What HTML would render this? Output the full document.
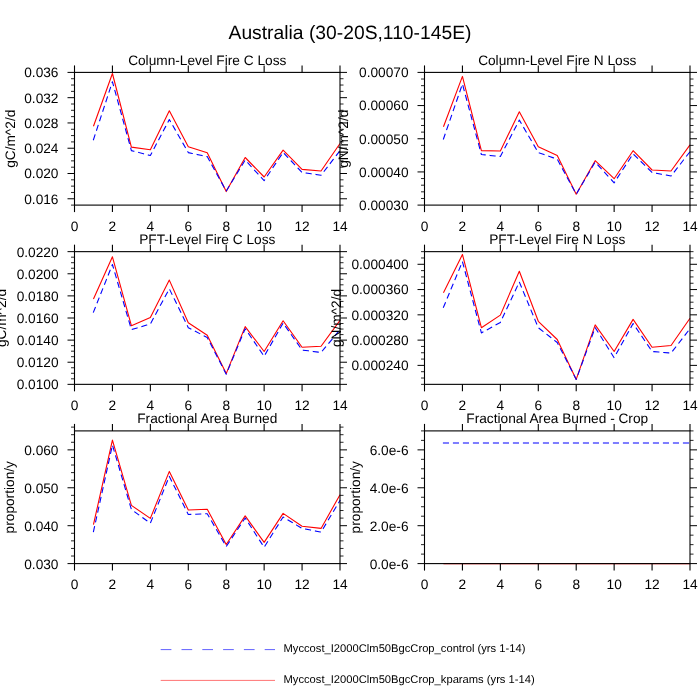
<!DOCTYPE html>
<html><head><meta charset="utf-8"><style>
html,body{margin:0;padding:0;background:#fff;}
svg{display:block;will-change:transform;}
text{text-rendering:geometricPrecision;}
.t{font-family:"Liberation Sans",sans-serif;font-size:13.7px;fill:#000;}
.tt{font-family:"Liberation Sans",sans-serif;font-size:19.3px;fill:#000;}
.tl{font-family:"Liberation Sans",sans-serif;font-size:11.2px;fill:#000;}
</style></head><body>
<svg width="700" height="700" viewBox="0 0 700 700">
<rect width="700" height="700" fill="#fff"/>
<line x1="443.46" y1="563.5999999999999" x2="690.00" y2="563.5999999999999" stroke="#f00" stroke-width="1.1"/>
<line x1="443.46" y1="443.0" x2="690.00" y2="443.0" stroke="#00f" stroke-width="1.1" stroke-linejoin="round" stroke-linecap="square" stroke-dasharray="5 5"/>
<polyline points="93.46,524.6 112.43,440.1 131.39,505.4 150.36,518.4 169.32,471.4 188.29,510 207.25,509.2 226.21,544.5 245.18,515.9 264.14,542.4 283.11,513.4 302.07,526.3 321.04,528.4 340.00,494.8" fill="none" stroke="#f00" stroke-width="1.1" stroke-linejoin="round"/>
<polyline points="93.46,531.6 112.43,445.0 131.39,509.5 150.36,523.2 169.32,476.3 188.29,514.5 207.25,513.7 226.21,546.5 245.18,518 264.14,547.3 283.11,517 302.07,528.4 321.04,532.1 340.00,500.4" fill="none" stroke="#00f" stroke-width="1.1" stroke-linejoin="round" stroke-linecap="square" stroke-dasharray="5 5"/>
<polyline points="443.46,292.7 462.43,254.4 481.39,327.7 500.36,315.1 519.32,271.3 538.29,321.3 557.25,339.5 576.21,379.4 595.18,324.9 614.14,351.5 633.11,319.4 652.07,347.3 671.04,345.5 690.00,318.3" fill="none" stroke="#f00" stroke-width="1.1" stroke-linejoin="round"/>
<polyline points="443.46,307.3 462.43,261.6 481.39,332.9 500.36,322.4 519.32,282 538.29,327.7 557.25,342.5 576.21,379.4 595.18,327.6 614.14,357.7 633.11,323.5 652.07,351.5 671.04,353.1 690.00,328.7" fill="none" stroke="#00f" stroke-width="1.1" stroke-linejoin="round" stroke-linecap="square" stroke-dasharray="5 5"/>
<polyline points="93.46,299.1 112.43,256.8 131.39,325.7 150.36,317.4 169.32,280.1 188.29,322.8 207.25,335.2 226.21,373.6 245.18,326.6 264.14,351.5 283.11,320.8 302.07,347.3 321.04,346.3 340.00,320.4" fill="none" stroke="#f00" stroke-width="1.1" stroke-linejoin="round"/>
<polyline points="93.46,312.1 112.43,264.5 131.39,329.6 150.36,324.0 169.32,288.8 188.29,327.7 207.25,337.5 226.21,374.2 245.18,328.7 264.14,356.3 283.11,323.1 302.07,350 321.04,352.5 340.00,329.7" fill="none" stroke="#00f" stroke-width="1.1" stroke-linejoin="round" stroke-linecap="square" stroke-dasharray="5 5"/>
<polyline points="443.46,126.7 462.43,76.4 481.39,150.6 500.36,151 519.32,111.8 538.29,146.7 557.25,155.5 576.21,194.2 595.18,160.7 614.14,178.7 633.11,150.7 652.07,170 671.04,171 690.00,144.9" fill="none" stroke="#f00" stroke-width="1.1" stroke-linejoin="round"/>
<polyline points="443.46,139 462.43,84 481.39,154.5 500.36,156.5 519.32,120.1 538.29,152.6 557.25,159.2 576.21,194.2 595.18,162.1 614.14,182.8 633.11,153.8 652.07,172.5 671.04,176 690.00,151.7" fill="none" stroke="#00f" stroke-width="1.1" stroke-linejoin="round" stroke-linecap="square" stroke-dasharray="5 5"/>
<polyline points="93.46,126.3 112.43,73.5 131.39,147.1 150.36,149.7 169.32,110.8 188.29,146.7 207.25,152.8 226.21,191.6 245.18,157.5 264.14,177 283.11,150.1 302.07,169.4 321.04,171 340.00,143.5" fill="none" stroke="#f00" stroke-width="1.1" stroke-linejoin="round"/>
<polyline points="93.46,139.7 112.43,81.7 131.39,150.6 150.36,155.5 169.32,119.5 188.29,152.6 207.25,156.6 226.21,191.1 245.18,160 264.14,180.7 283.11,152.4 302.07,172.5 321.04,175.2 340.00,150.7" fill="none" stroke="#00f" stroke-width="1.1" stroke-linejoin="round" stroke-linecap="square" stroke-dasharray="5 5"/>
<line x1="74.50" y1="65.4" x2="74.50" y2="72.4" stroke="#000" stroke-width="1.1"/>
<line x1="74.50" y1="205.1" x2="74.50" y2="212.1" stroke="#000" stroke-width="1.1"/>
<text x="74.50" y="230.70" class="t" text-anchor="middle">0</text>
<line x1="112.43" y1="65.4" x2="112.43" y2="72.4" stroke="#000" stroke-width="1.1"/>
<line x1="112.43" y1="205.1" x2="112.43" y2="212.1" stroke="#000" stroke-width="1.1"/>
<text x="112.43" y="230.70" class="t" text-anchor="middle">2</text>
<line x1="150.36" y1="65.4" x2="150.36" y2="72.4" stroke="#000" stroke-width="1.1"/>
<line x1="150.36" y1="205.1" x2="150.36" y2="212.1" stroke="#000" stroke-width="1.1"/>
<text x="150.36" y="230.70" class="t" text-anchor="middle">4</text>
<line x1="188.29" y1="65.4" x2="188.29" y2="72.4" stroke="#000" stroke-width="1.1"/>
<line x1="188.29" y1="205.1" x2="188.29" y2="212.1" stroke="#000" stroke-width="1.1"/>
<text x="188.29" y="230.70" class="t" text-anchor="middle">6</text>
<line x1="226.21" y1="65.4" x2="226.21" y2="72.4" stroke="#000" stroke-width="1.1"/>
<line x1="226.21" y1="205.1" x2="226.21" y2="212.1" stroke="#000" stroke-width="1.1"/>
<text x="226.21" y="230.70" class="t" text-anchor="middle">8</text>
<line x1="264.14" y1="65.4" x2="264.14" y2="72.4" stroke="#000" stroke-width="1.1"/>
<line x1="264.14" y1="205.1" x2="264.14" y2="212.1" stroke="#000" stroke-width="1.1"/>
<text x="264.14" y="230.70" class="t" text-anchor="middle">10</text>
<line x1="302.07" y1="65.4" x2="302.07" y2="72.4" stroke="#000" stroke-width="1.1"/>
<line x1="302.07" y1="205.1" x2="302.07" y2="212.1" stroke="#000" stroke-width="1.1"/>
<text x="302.07" y="230.70" class="t" text-anchor="middle">12</text>
<line x1="340.00" y1="65.4" x2="340.00" y2="72.4" stroke="#000" stroke-width="1.1"/>
<line x1="340.00" y1="205.1" x2="340.00" y2="212.1" stroke="#000" stroke-width="1.1"/>
<text x="340.00" y="230.70" class="t" text-anchor="middle">14</text>
<line x1="71.0" y1="205.10" x2="74.5" y2="205.10" stroke="#000" stroke-width="0.85"/>
<line x1="340.0" y1="205.10" x2="343.5" y2="205.10" stroke="#000" stroke-width="0.85"/>
<line x1="67.5" y1="198.78" x2="74.5" y2="198.78" stroke="#000" stroke-width="1.0"/>
<line x1="340.0" y1="198.78" x2="347.0" y2="198.78" stroke="#000" stroke-width="1.0"/>
<text x="58.5" y="203.68" class="t" text-anchor="end">0.016</text>
<line x1="71.0" y1="192.46" x2="74.5" y2="192.46" stroke="#000" stroke-width="0.85"/>
<line x1="340.0" y1="192.46" x2="343.5" y2="192.46" stroke="#000" stroke-width="0.85"/>
<line x1="71.0" y1="186.14" x2="74.5" y2="186.14" stroke="#000" stroke-width="0.85"/>
<line x1="340.0" y1="186.14" x2="343.5" y2="186.14" stroke="#000" stroke-width="0.85"/>
<line x1="71.0" y1="179.82" x2="74.5" y2="179.82" stroke="#000" stroke-width="0.85"/>
<line x1="340.0" y1="179.82" x2="343.5" y2="179.82" stroke="#000" stroke-width="0.85"/>
<line x1="67.5" y1="173.50" x2="74.5" y2="173.50" stroke="#000" stroke-width="1.0"/>
<line x1="340.0" y1="173.50" x2="347.0" y2="173.50" stroke="#000" stroke-width="1.0"/>
<text x="58.5" y="178.40" class="t" text-anchor="end">0.020</text>
<line x1="71.0" y1="167.19" x2="74.5" y2="167.19" stroke="#000" stroke-width="0.85"/>
<line x1="340.0" y1="167.19" x2="343.5" y2="167.19" stroke="#000" stroke-width="0.85"/>
<line x1="71.0" y1="160.87" x2="74.5" y2="160.87" stroke="#000" stroke-width="0.85"/>
<line x1="340.0" y1="160.87" x2="343.5" y2="160.87" stroke="#000" stroke-width="0.85"/>
<line x1="71.0" y1="154.55" x2="74.5" y2="154.55" stroke="#000" stroke-width="0.85"/>
<line x1="340.0" y1="154.55" x2="343.5" y2="154.55" stroke="#000" stroke-width="0.85"/>
<line x1="67.5" y1="148.23" x2="74.5" y2="148.23" stroke="#000" stroke-width="1.0"/>
<line x1="340.0" y1="148.23" x2="347.0" y2="148.23" stroke="#000" stroke-width="1.0"/>
<text x="58.5" y="153.13" class="t" text-anchor="end">0.024</text>
<line x1="71.0" y1="141.91" x2="74.5" y2="141.91" stroke="#000" stroke-width="0.85"/>
<line x1="340.0" y1="141.91" x2="343.5" y2="141.91" stroke="#000" stroke-width="0.85"/>
<line x1="71.0" y1="135.59" x2="74.5" y2="135.59" stroke="#000" stroke-width="0.85"/>
<line x1="340.0" y1="135.59" x2="343.5" y2="135.59" stroke="#000" stroke-width="0.85"/>
<line x1="71.0" y1="129.27" x2="74.5" y2="129.27" stroke="#000" stroke-width="0.85"/>
<line x1="340.0" y1="129.27" x2="343.5" y2="129.27" stroke="#000" stroke-width="0.85"/>
<line x1="67.5" y1="122.95" x2="74.5" y2="122.95" stroke="#000" stroke-width="1.0"/>
<line x1="340.0" y1="122.95" x2="347.0" y2="122.95" stroke="#000" stroke-width="1.0"/>
<text x="58.5" y="127.85" class="t" text-anchor="end">0.028</text>
<line x1="71.0" y1="116.63" x2="74.5" y2="116.63" stroke="#000" stroke-width="0.85"/>
<line x1="340.0" y1="116.63" x2="343.5" y2="116.63" stroke="#000" stroke-width="0.85"/>
<line x1="71.0" y1="110.31" x2="74.5" y2="110.31" stroke="#000" stroke-width="0.85"/>
<line x1="340.0" y1="110.31" x2="343.5" y2="110.31" stroke="#000" stroke-width="0.85"/>
<line x1="71.0" y1="104.00" x2="74.5" y2="104.00" stroke="#000" stroke-width="0.85"/>
<line x1="340.0" y1="104.00" x2="343.5" y2="104.00" stroke="#000" stroke-width="0.85"/>
<line x1="67.5" y1="97.68" x2="74.5" y2="97.68" stroke="#000" stroke-width="1.0"/>
<line x1="340.0" y1="97.68" x2="347.0" y2="97.68" stroke="#000" stroke-width="1.0"/>
<text x="58.5" y="102.58" class="t" text-anchor="end">0.032</text>
<line x1="71.0" y1="91.36" x2="74.5" y2="91.36" stroke="#000" stroke-width="0.85"/>
<line x1="340.0" y1="91.36" x2="343.5" y2="91.36" stroke="#000" stroke-width="0.85"/>
<line x1="71.0" y1="85.04" x2="74.5" y2="85.04" stroke="#000" stroke-width="0.85"/>
<line x1="340.0" y1="85.04" x2="343.5" y2="85.04" stroke="#000" stroke-width="0.85"/>
<line x1="71.0" y1="78.72" x2="74.5" y2="78.72" stroke="#000" stroke-width="0.85"/>
<line x1="340.0" y1="78.72" x2="343.5" y2="78.72" stroke="#000" stroke-width="0.85"/>
<line x1="67.5" y1="72.40" x2="74.5" y2="72.40" stroke="#000" stroke-width="1.0"/>
<line x1="340.0" y1="72.40" x2="347.0" y2="72.40" stroke="#000" stroke-width="1.0"/>
<text x="58.5" y="77.30" class="t" text-anchor="end">0.036</text>
<text x="207.25" y="64.70" class="t" text-anchor="middle">Column-Level Fire C Loss</text>
<rect x="74.5" y="72.4" width="265.5" height="132.7" fill="none" stroke="#000" stroke-width="1.1"/>
<line x1="424.50" y1="65.4" x2="424.50" y2="72.4" stroke="#000" stroke-width="1.1"/>
<line x1="424.50" y1="205.1" x2="424.50" y2="212.1" stroke="#000" stroke-width="1.1"/>
<text x="424.50" y="230.70" class="t" text-anchor="middle">0</text>
<line x1="462.43" y1="65.4" x2="462.43" y2="72.4" stroke="#000" stroke-width="1.1"/>
<line x1="462.43" y1="205.1" x2="462.43" y2="212.1" stroke="#000" stroke-width="1.1"/>
<text x="462.43" y="230.70" class="t" text-anchor="middle">2</text>
<line x1="500.36" y1="65.4" x2="500.36" y2="72.4" stroke="#000" stroke-width="1.1"/>
<line x1="500.36" y1="205.1" x2="500.36" y2="212.1" stroke="#000" stroke-width="1.1"/>
<text x="500.36" y="230.70" class="t" text-anchor="middle">4</text>
<line x1="538.29" y1="65.4" x2="538.29" y2="72.4" stroke="#000" stroke-width="1.1"/>
<line x1="538.29" y1="205.1" x2="538.29" y2="212.1" stroke="#000" stroke-width="1.1"/>
<text x="538.29" y="230.70" class="t" text-anchor="middle">6</text>
<line x1="576.21" y1="65.4" x2="576.21" y2="72.4" stroke="#000" stroke-width="1.1"/>
<line x1="576.21" y1="205.1" x2="576.21" y2="212.1" stroke="#000" stroke-width="1.1"/>
<text x="576.21" y="230.70" class="t" text-anchor="middle">8</text>
<line x1="614.14" y1="65.4" x2="614.14" y2="72.4" stroke="#000" stroke-width="1.1"/>
<line x1="614.14" y1="205.1" x2="614.14" y2="212.1" stroke="#000" stroke-width="1.1"/>
<text x="614.14" y="230.70" class="t" text-anchor="middle">10</text>
<line x1="652.07" y1="65.4" x2="652.07" y2="72.4" stroke="#000" stroke-width="1.1"/>
<line x1="652.07" y1="205.1" x2="652.07" y2="212.1" stroke="#000" stroke-width="1.1"/>
<text x="652.07" y="230.70" class="t" text-anchor="middle">12</text>
<line x1="690.00" y1="65.4" x2="690.00" y2="72.4" stroke="#000" stroke-width="1.1"/>
<line x1="690.00" y1="205.1" x2="690.00" y2="212.1" stroke="#000" stroke-width="1.1"/>
<text x="690.00" y="230.70" class="t" text-anchor="middle">14</text>
<line x1="417.5" y1="205.10" x2="424.5" y2="205.10" stroke="#000" stroke-width="1.0"/>
<line x1="690.0" y1="205.10" x2="697.0" y2="205.10" stroke="#000" stroke-width="1.0"/>
<text x="408.5" y="210.00" class="t" text-anchor="end">0.00030</text>
<line x1="421.0" y1="198.47" x2="424.5" y2="198.47" stroke="#000" stroke-width="0.85"/>
<line x1="690.0" y1="198.47" x2="693.5" y2="198.47" stroke="#000" stroke-width="0.85"/>
<line x1="421.0" y1="191.83" x2="424.5" y2="191.83" stroke="#000" stroke-width="0.85"/>
<line x1="690.0" y1="191.83" x2="693.5" y2="191.83" stroke="#000" stroke-width="0.85"/>
<line x1="421.0" y1="185.19" x2="424.5" y2="185.19" stroke="#000" stroke-width="0.85"/>
<line x1="690.0" y1="185.19" x2="693.5" y2="185.19" stroke="#000" stroke-width="0.85"/>
<line x1="421.0" y1="178.56" x2="424.5" y2="178.56" stroke="#000" stroke-width="0.85"/>
<line x1="690.0" y1="178.56" x2="693.5" y2="178.56" stroke="#000" stroke-width="0.85"/>
<line x1="417.5" y1="171.93" x2="424.5" y2="171.93" stroke="#000" stroke-width="1.0"/>
<line x1="690.0" y1="171.93" x2="697.0" y2="171.93" stroke="#000" stroke-width="1.0"/>
<text x="408.5" y="176.83" class="t" text-anchor="end">0.00040</text>
<line x1="421.0" y1="165.29" x2="424.5" y2="165.29" stroke="#000" stroke-width="0.85"/>
<line x1="690.0" y1="165.29" x2="693.5" y2="165.29" stroke="#000" stroke-width="0.85"/>
<line x1="421.0" y1="158.66" x2="424.5" y2="158.66" stroke="#000" stroke-width="0.85"/>
<line x1="690.0" y1="158.66" x2="693.5" y2="158.66" stroke="#000" stroke-width="0.85"/>
<line x1="421.0" y1="152.02" x2="424.5" y2="152.02" stroke="#000" stroke-width="0.85"/>
<line x1="690.0" y1="152.02" x2="693.5" y2="152.02" stroke="#000" stroke-width="0.85"/>
<line x1="421.0" y1="145.38" x2="424.5" y2="145.38" stroke="#000" stroke-width="0.85"/>
<line x1="690.0" y1="145.38" x2="693.5" y2="145.38" stroke="#000" stroke-width="0.85"/>
<line x1="417.5" y1="138.75" x2="424.5" y2="138.75" stroke="#000" stroke-width="1.0"/>
<line x1="690.0" y1="138.75" x2="697.0" y2="138.75" stroke="#000" stroke-width="1.0"/>
<text x="408.5" y="143.65" class="t" text-anchor="end">0.00050</text>
<line x1="421.0" y1="132.12" x2="424.5" y2="132.12" stroke="#000" stroke-width="0.85"/>
<line x1="690.0" y1="132.12" x2="693.5" y2="132.12" stroke="#000" stroke-width="0.85"/>
<line x1="421.0" y1="125.48" x2="424.5" y2="125.48" stroke="#000" stroke-width="0.85"/>
<line x1="690.0" y1="125.48" x2="693.5" y2="125.48" stroke="#000" stroke-width="0.85"/>
<line x1="421.0" y1="118.85" x2="424.5" y2="118.85" stroke="#000" stroke-width="0.85"/>
<line x1="690.0" y1="118.85" x2="693.5" y2="118.85" stroke="#000" stroke-width="0.85"/>
<line x1="421.0" y1="112.21" x2="424.5" y2="112.21" stroke="#000" stroke-width="0.85"/>
<line x1="690.0" y1="112.21" x2="693.5" y2="112.21" stroke="#000" stroke-width="0.85"/>
<line x1="417.5" y1="105.57" x2="424.5" y2="105.57" stroke="#000" stroke-width="1.0"/>
<line x1="690.0" y1="105.57" x2="697.0" y2="105.57" stroke="#000" stroke-width="1.0"/>
<text x="408.5" y="110.47" class="t" text-anchor="end">0.00060</text>
<line x1="421.0" y1="98.94" x2="424.5" y2="98.94" stroke="#000" stroke-width="0.85"/>
<line x1="690.0" y1="98.94" x2="693.5" y2="98.94" stroke="#000" stroke-width="0.85"/>
<line x1="421.0" y1="92.31" x2="424.5" y2="92.31" stroke="#000" stroke-width="0.85"/>
<line x1="690.0" y1="92.31" x2="693.5" y2="92.31" stroke="#000" stroke-width="0.85"/>
<line x1="421.0" y1="85.67" x2="424.5" y2="85.67" stroke="#000" stroke-width="0.85"/>
<line x1="690.0" y1="85.67" x2="693.5" y2="85.67" stroke="#000" stroke-width="0.85"/>
<line x1="421.0" y1="79.03" x2="424.5" y2="79.03" stroke="#000" stroke-width="0.85"/>
<line x1="690.0" y1="79.03" x2="693.5" y2="79.03" stroke="#000" stroke-width="0.85"/>
<line x1="417.5" y1="72.40" x2="424.5" y2="72.40" stroke="#000" stroke-width="1.0"/>
<line x1="690.0" y1="72.40" x2="697.0" y2="72.40" stroke="#000" stroke-width="1.0"/>
<text x="408.5" y="77.30" class="t" text-anchor="end">0.00070</text>
<text x="557.25" y="64.70" class="t" text-anchor="middle">Column-Level Fire N Loss</text>
<rect x="424.5" y="72.4" width="265.5" height="132.7" fill="none" stroke="#000" stroke-width="1.1"/>
<line x1="74.50" y1="244.65" x2="74.50" y2="251.65" stroke="#000" stroke-width="1.1"/>
<line x1="74.50" y1="384.35" x2="74.50" y2="391.35" stroke="#000" stroke-width="1.1"/>
<text x="74.50" y="409.95" class="t" text-anchor="middle">0</text>
<line x1="112.43" y1="244.65" x2="112.43" y2="251.65" stroke="#000" stroke-width="1.1"/>
<line x1="112.43" y1="384.35" x2="112.43" y2="391.35" stroke="#000" stroke-width="1.1"/>
<text x="112.43" y="409.95" class="t" text-anchor="middle">2</text>
<line x1="150.36" y1="244.65" x2="150.36" y2="251.65" stroke="#000" stroke-width="1.1"/>
<line x1="150.36" y1="384.35" x2="150.36" y2="391.35" stroke="#000" stroke-width="1.1"/>
<text x="150.36" y="409.95" class="t" text-anchor="middle">4</text>
<line x1="188.29" y1="244.65" x2="188.29" y2="251.65" stroke="#000" stroke-width="1.1"/>
<line x1="188.29" y1="384.35" x2="188.29" y2="391.35" stroke="#000" stroke-width="1.1"/>
<text x="188.29" y="409.95" class="t" text-anchor="middle">6</text>
<line x1="226.21" y1="244.65" x2="226.21" y2="251.65" stroke="#000" stroke-width="1.1"/>
<line x1="226.21" y1="384.35" x2="226.21" y2="391.35" stroke="#000" stroke-width="1.1"/>
<text x="226.21" y="409.95" class="t" text-anchor="middle">8</text>
<line x1="264.14" y1="244.65" x2="264.14" y2="251.65" stroke="#000" stroke-width="1.1"/>
<line x1="264.14" y1="384.35" x2="264.14" y2="391.35" stroke="#000" stroke-width="1.1"/>
<text x="264.14" y="409.95" class="t" text-anchor="middle">10</text>
<line x1="302.07" y1="244.65" x2="302.07" y2="251.65" stroke="#000" stroke-width="1.1"/>
<line x1="302.07" y1="384.35" x2="302.07" y2="391.35" stroke="#000" stroke-width="1.1"/>
<text x="302.07" y="409.95" class="t" text-anchor="middle">12</text>
<line x1="340.00" y1="244.65" x2="340.00" y2="251.65" stroke="#000" stroke-width="1.1"/>
<line x1="340.00" y1="384.35" x2="340.00" y2="391.35" stroke="#000" stroke-width="1.1"/>
<text x="340.00" y="409.95" class="t" text-anchor="middle">14</text>
<line x1="67.5" y1="384.35" x2="74.5" y2="384.35" stroke="#000" stroke-width="1.0"/>
<line x1="340.0" y1="384.35" x2="347.0" y2="384.35" stroke="#000" stroke-width="1.0"/>
<text x="58.5" y="389.25" class="t" text-anchor="end">0.0100</text>
<line x1="71.0" y1="378.82" x2="74.5" y2="378.82" stroke="#000" stroke-width="0.85"/>
<line x1="340.0" y1="378.82" x2="343.5" y2="378.82" stroke="#000" stroke-width="0.85"/>
<line x1="71.0" y1="373.29" x2="74.5" y2="373.29" stroke="#000" stroke-width="0.85"/>
<line x1="340.0" y1="373.29" x2="343.5" y2="373.29" stroke="#000" stroke-width="0.85"/>
<line x1="71.0" y1="367.76" x2="74.5" y2="367.76" stroke="#000" stroke-width="0.85"/>
<line x1="340.0" y1="367.76" x2="343.5" y2="367.76" stroke="#000" stroke-width="0.85"/>
<line x1="67.5" y1="362.23" x2="74.5" y2="362.23" stroke="#000" stroke-width="1.0"/>
<line x1="340.0" y1="362.23" x2="347.0" y2="362.23" stroke="#000" stroke-width="1.0"/>
<text x="58.5" y="367.13" class="t" text-anchor="end">0.0120</text>
<line x1="71.0" y1="356.70" x2="74.5" y2="356.70" stroke="#000" stroke-width="0.85"/>
<line x1="340.0" y1="356.70" x2="343.5" y2="356.70" stroke="#000" stroke-width="0.85"/>
<line x1="71.0" y1="351.18" x2="74.5" y2="351.18" stroke="#000" stroke-width="0.85"/>
<line x1="340.0" y1="351.18" x2="343.5" y2="351.18" stroke="#000" stroke-width="0.85"/>
<line x1="71.0" y1="345.65" x2="74.5" y2="345.65" stroke="#000" stroke-width="0.85"/>
<line x1="340.0" y1="345.65" x2="343.5" y2="345.65" stroke="#000" stroke-width="0.85"/>
<line x1="67.5" y1="340.12" x2="74.5" y2="340.12" stroke="#000" stroke-width="1.0"/>
<line x1="340.0" y1="340.12" x2="347.0" y2="340.12" stroke="#000" stroke-width="1.0"/>
<text x="58.5" y="345.02" class="t" text-anchor="end">0.0140</text>
<line x1="71.0" y1="334.59" x2="74.5" y2="334.59" stroke="#000" stroke-width="0.85"/>
<line x1="340.0" y1="334.59" x2="343.5" y2="334.59" stroke="#000" stroke-width="0.85"/>
<line x1="71.0" y1="329.06" x2="74.5" y2="329.06" stroke="#000" stroke-width="0.85"/>
<line x1="340.0" y1="329.06" x2="343.5" y2="329.06" stroke="#000" stroke-width="0.85"/>
<line x1="71.0" y1="323.53" x2="74.5" y2="323.53" stroke="#000" stroke-width="0.85"/>
<line x1="340.0" y1="323.53" x2="343.5" y2="323.53" stroke="#000" stroke-width="0.85"/>
<line x1="67.5" y1="318.00" x2="74.5" y2="318.00" stroke="#000" stroke-width="1.0"/>
<line x1="340.0" y1="318.00" x2="347.0" y2="318.00" stroke="#000" stroke-width="1.0"/>
<text x="58.5" y="322.90" class="t" text-anchor="end">0.0160</text>
<line x1="71.0" y1="312.47" x2="74.5" y2="312.47" stroke="#000" stroke-width="0.85"/>
<line x1="340.0" y1="312.47" x2="343.5" y2="312.47" stroke="#000" stroke-width="0.85"/>
<line x1="71.0" y1="306.94" x2="74.5" y2="306.94" stroke="#000" stroke-width="0.85"/>
<line x1="340.0" y1="306.94" x2="343.5" y2="306.94" stroke="#000" stroke-width="0.85"/>
<line x1="71.0" y1="301.41" x2="74.5" y2="301.41" stroke="#000" stroke-width="0.85"/>
<line x1="340.0" y1="301.41" x2="343.5" y2="301.41" stroke="#000" stroke-width="0.85"/>
<line x1="67.5" y1="295.88" x2="74.5" y2="295.88" stroke="#000" stroke-width="1.0"/>
<line x1="340.0" y1="295.88" x2="347.0" y2="295.88" stroke="#000" stroke-width="1.0"/>
<text x="58.5" y="300.78" class="t" text-anchor="end">0.0180</text>
<line x1="71.0" y1="290.35" x2="74.5" y2="290.35" stroke="#000" stroke-width="0.85"/>
<line x1="340.0" y1="290.35" x2="343.5" y2="290.35" stroke="#000" stroke-width="0.85"/>
<line x1="71.0" y1="284.82" x2="74.5" y2="284.82" stroke="#000" stroke-width="0.85"/>
<line x1="340.0" y1="284.82" x2="343.5" y2="284.82" stroke="#000" stroke-width="0.85"/>
<line x1="71.0" y1="279.30" x2="74.5" y2="279.30" stroke="#000" stroke-width="0.85"/>
<line x1="340.0" y1="279.30" x2="343.5" y2="279.30" stroke="#000" stroke-width="0.85"/>
<line x1="67.5" y1="273.77" x2="74.5" y2="273.77" stroke="#000" stroke-width="1.0"/>
<line x1="340.0" y1="273.77" x2="347.0" y2="273.77" stroke="#000" stroke-width="1.0"/>
<text x="58.5" y="278.67" class="t" text-anchor="end">0.0200</text>
<line x1="71.0" y1="268.24" x2="74.5" y2="268.24" stroke="#000" stroke-width="0.85"/>
<line x1="340.0" y1="268.24" x2="343.5" y2="268.24" stroke="#000" stroke-width="0.85"/>
<line x1="71.0" y1="262.71" x2="74.5" y2="262.71" stroke="#000" stroke-width="0.85"/>
<line x1="340.0" y1="262.71" x2="343.5" y2="262.71" stroke="#000" stroke-width="0.85"/>
<line x1="71.0" y1="257.18" x2="74.5" y2="257.18" stroke="#000" stroke-width="0.85"/>
<line x1="340.0" y1="257.18" x2="343.5" y2="257.18" stroke="#000" stroke-width="0.85"/>
<line x1="67.5" y1="251.65" x2="74.5" y2="251.65" stroke="#000" stroke-width="1.0"/>
<line x1="340.0" y1="251.65" x2="347.0" y2="251.65" stroke="#000" stroke-width="1.0"/>
<text x="58.5" y="256.55" class="t" text-anchor="end">0.0220</text>
<text x="207.25" y="243.95" class="t" text-anchor="middle">PFT-Level Fire C Loss</text>
<rect x="74.5" y="251.65" width="265.5" height="132.7" fill="none" stroke="#000" stroke-width="1.1"/>
<line x1="424.50" y1="244.65" x2="424.50" y2="251.65" stroke="#000" stroke-width="1.1"/>
<line x1="424.50" y1="384.35" x2="424.50" y2="391.35" stroke="#000" stroke-width="1.1"/>
<text x="424.50" y="409.95" class="t" text-anchor="middle">0</text>
<line x1="462.43" y1="244.65" x2="462.43" y2="251.65" stroke="#000" stroke-width="1.1"/>
<line x1="462.43" y1="384.35" x2="462.43" y2="391.35" stroke="#000" stroke-width="1.1"/>
<text x="462.43" y="409.95" class="t" text-anchor="middle">2</text>
<line x1="500.36" y1="244.65" x2="500.36" y2="251.65" stroke="#000" stroke-width="1.1"/>
<line x1="500.36" y1="384.35" x2="500.36" y2="391.35" stroke="#000" stroke-width="1.1"/>
<text x="500.36" y="409.95" class="t" text-anchor="middle">4</text>
<line x1="538.29" y1="244.65" x2="538.29" y2="251.65" stroke="#000" stroke-width="1.1"/>
<line x1="538.29" y1="384.35" x2="538.29" y2="391.35" stroke="#000" stroke-width="1.1"/>
<text x="538.29" y="409.95" class="t" text-anchor="middle">6</text>
<line x1="576.21" y1="244.65" x2="576.21" y2="251.65" stroke="#000" stroke-width="1.1"/>
<line x1="576.21" y1="384.35" x2="576.21" y2="391.35" stroke="#000" stroke-width="1.1"/>
<text x="576.21" y="409.95" class="t" text-anchor="middle">8</text>
<line x1="614.14" y1="244.65" x2="614.14" y2="251.65" stroke="#000" stroke-width="1.1"/>
<line x1="614.14" y1="384.35" x2="614.14" y2="391.35" stroke="#000" stroke-width="1.1"/>
<text x="614.14" y="409.95" class="t" text-anchor="middle">10</text>
<line x1="652.07" y1="244.65" x2="652.07" y2="251.65" stroke="#000" stroke-width="1.1"/>
<line x1="652.07" y1="384.35" x2="652.07" y2="391.35" stroke="#000" stroke-width="1.1"/>
<text x="652.07" y="409.95" class="t" text-anchor="middle">12</text>
<line x1="690.00" y1="244.65" x2="690.00" y2="251.65" stroke="#000" stroke-width="1.1"/>
<line x1="690.00" y1="384.35" x2="690.00" y2="391.35" stroke="#000" stroke-width="1.1"/>
<text x="690.00" y="409.95" class="t" text-anchor="middle">14</text>
<line x1="421.0" y1="384.35" x2="424.5" y2="384.35" stroke="#000" stroke-width="0.85"/>
<line x1="690.0" y1="384.35" x2="693.5" y2="384.35" stroke="#000" stroke-width="0.85"/>
<line x1="421.0" y1="378.03" x2="424.5" y2="378.03" stroke="#000" stroke-width="0.85"/>
<line x1="690.0" y1="378.03" x2="693.5" y2="378.03" stroke="#000" stroke-width="0.85"/>
<line x1="421.0" y1="371.71" x2="424.5" y2="371.71" stroke="#000" stroke-width="0.85"/>
<line x1="690.0" y1="371.71" x2="693.5" y2="371.71" stroke="#000" stroke-width="0.85"/>
<line x1="417.5" y1="365.39" x2="424.5" y2="365.39" stroke="#000" stroke-width="1.0"/>
<line x1="690.0" y1="365.39" x2="697.0" y2="365.39" stroke="#000" stroke-width="1.0"/>
<text x="408.5" y="370.29" class="t" text-anchor="end">0.000240</text>
<line x1="421.0" y1="359.07" x2="424.5" y2="359.07" stroke="#000" stroke-width="0.85"/>
<line x1="690.0" y1="359.07" x2="693.5" y2="359.07" stroke="#000" stroke-width="0.85"/>
<line x1="421.0" y1="352.75" x2="424.5" y2="352.75" stroke="#000" stroke-width="0.85"/>
<line x1="690.0" y1="352.75" x2="693.5" y2="352.75" stroke="#000" stroke-width="0.85"/>
<line x1="421.0" y1="346.44" x2="424.5" y2="346.44" stroke="#000" stroke-width="0.85"/>
<line x1="690.0" y1="346.44" x2="693.5" y2="346.44" stroke="#000" stroke-width="0.85"/>
<line x1="417.5" y1="340.12" x2="424.5" y2="340.12" stroke="#000" stroke-width="1.0"/>
<line x1="690.0" y1="340.12" x2="697.0" y2="340.12" stroke="#000" stroke-width="1.0"/>
<text x="408.5" y="345.02" class="t" text-anchor="end">0.000280</text>
<line x1="421.0" y1="333.80" x2="424.5" y2="333.80" stroke="#000" stroke-width="0.85"/>
<line x1="690.0" y1="333.80" x2="693.5" y2="333.80" stroke="#000" stroke-width="0.85"/>
<line x1="421.0" y1="327.48" x2="424.5" y2="327.48" stroke="#000" stroke-width="0.85"/>
<line x1="690.0" y1="327.48" x2="693.5" y2="327.48" stroke="#000" stroke-width="0.85"/>
<line x1="421.0" y1="321.16" x2="424.5" y2="321.16" stroke="#000" stroke-width="0.85"/>
<line x1="690.0" y1="321.16" x2="693.5" y2="321.16" stroke="#000" stroke-width="0.85"/>
<line x1="417.5" y1="314.84" x2="424.5" y2="314.84" stroke="#000" stroke-width="1.0"/>
<line x1="690.0" y1="314.84" x2="697.0" y2="314.84" stroke="#000" stroke-width="1.0"/>
<text x="408.5" y="319.74" class="t" text-anchor="end">0.000320</text>
<line x1="421.0" y1="308.52" x2="424.5" y2="308.52" stroke="#000" stroke-width="0.85"/>
<line x1="690.0" y1="308.52" x2="693.5" y2="308.52" stroke="#000" stroke-width="0.85"/>
<line x1="421.0" y1="302.20" x2="424.5" y2="302.20" stroke="#000" stroke-width="0.85"/>
<line x1="690.0" y1="302.20" x2="693.5" y2="302.20" stroke="#000" stroke-width="0.85"/>
<line x1="421.0" y1="295.88" x2="424.5" y2="295.88" stroke="#000" stroke-width="0.85"/>
<line x1="690.0" y1="295.88" x2="693.5" y2="295.88" stroke="#000" stroke-width="0.85"/>
<line x1="417.5" y1="289.56" x2="424.5" y2="289.56" stroke="#000" stroke-width="1.0"/>
<line x1="690.0" y1="289.56" x2="697.0" y2="289.56" stroke="#000" stroke-width="1.0"/>
<text x="408.5" y="294.46" class="t" text-anchor="end">0.000360</text>
<line x1="421.0" y1="283.25" x2="424.5" y2="283.25" stroke="#000" stroke-width="0.85"/>
<line x1="690.0" y1="283.25" x2="693.5" y2="283.25" stroke="#000" stroke-width="0.85"/>
<line x1="421.0" y1="276.93" x2="424.5" y2="276.93" stroke="#000" stroke-width="0.85"/>
<line x1="690.0" y1="276.93" x2="693.5" y2="276.93" stroke="#000" stroke-width="0.85"/>
<line x1="421.0" y1="270.61" x2="424.5" y2="270.61" stroke="#000" stroke-width="0.85"/>
<line x1="690.0" y1="270.61" x2="693.5" y2="270.61" stroke="#000" stroke-width="0.85"/>
<line x1="417.5" y1="264.29" x2="424.5" y2="264.29" stroke="#000" stroke-width="1.0"/>
<line x1="690.0" y1="264.29" x2="697.0" y2="264.29" stroke="#000" stroke-width="1.0"/>
<text x="408.5" y="269.19" class="t" text-anchor="end">0.000400</text>
<line x1="421.0" y1="257.97" x2="424.5" y2="257.97" stroke="#000" stroke-width="0.85"/>
<line x1="690.0" y1="257.97" x2="693.5" y2="257.97" stroke="#000" stroke-width="0.85"/>
<line x1="421.0" y1="251.65" x2="424.5" y2="251.65" stroke="#000" stroke-width="0.85"/>
<line x1="690.0" y1="251.65" x2="693.5" y2="251.65" stroke="#000" stroke-width="0.85"/>
<text x="557.25" y="243.95" class="t" text-anchor="middle">PFT-Level Fire N Loss</text>
<rect x="424.5" y="251.65" width="265.5" height="132.7" fill="none" stroke="#000" stroke-width="1.1"/>
<line x1="74.50" y1="423.9" x2="74.50" y2="430.9" stroke="#000" stroke-width="1.1"/>
<line x1="74.50" y1="563.5999999999999" x2="74.50" y2="570.5999999999999" stroke="#000" stroke-width="1.1"/>
<text x="74.50" y="589.20" class="t" text-anchor="middle">0</text>
<line x1="112.43" y1="423.9" x2="112.43" y2="430.9" stroke="#000" stroke-width="1.1"/>
<line x1="112.43" y1="563.5999999999999" x2="112.43" y2="570.5999999999999" stroke="#000" stroke-width="1.1"/>
<text x="112.43" y="589.20" class="t" text-anchor="middle">2</text>
<line x1="150.36" y1="423.9" x2="150.36" y2="430.9" stroke="#000" stroke-width="1.1"/>
<line x1="150.36" y1="563.5999999999999" x2="150.36" y2="570.5999999999999" stroke="#000" stroke-width="1.1"/>
<text x="150.36" y="589.20" class="t" text-anchor="middle">4</text>
<line x1="188.29" y1="423.9" x2="188.29" y2="430.9" stroke="#000" stroke-width="1.1"/>
<line x1="188.29" y1="563.5999999999999" x2="188.29" y2="570.5999999999999" stroke="#000" stroke-width="1.1"/>
<text x="188.29" y="589.20" class="t" text-anchor="middle">6</text>
<line x1="226.21" y1="423.9" x2="226.21" y2="430.9" stroke="#000" stroke-width="1.1"/>
<line x1="226.21" y1="563.5999999999999" x2="226.21" y2="570.5999999999999" stroke="#000" stroke-width="1.1"/>
<text x="226.21" y="589.20" class="t" text-anchor="middle">8</text>
<line x1="264.14" y1="423.9" x2="264.14" y2="430.9" stroke="#000" stroke-width="1.1"/>
<line x1="264.14" y1="563.5999999999999" x2="264.14" y2="570.5999999999999" stroke="#000" stroke-width="1.1"/>
<text x="264.14" y="589.20" class="t" text-anchor="middle">10</text>
<line x1="302.07" y1="423.9" x2="302.07" y2="430.9" stroke="#000" stroke-width="1.1"/>
<line x1="302.07" y1="563.5999999999999" x2="302.07" y2="570.5999999999999" stroke="#000" stroke-width="1.1"/>
<text x="302.07" y="589.20" class="t" text-anchor="middle">12</text>
<line x1="340.00" y1="423.9" x2="340.00" y2="430.9" stroke="#000" stroke-width="1.1"/>
<line x1="340.00" y1="563.5999999999999" x2="340.00" y2="570.5999999999999" stroke="#000" stroke-width="1.1"/>
<text x="340.00" y="589.20" class="t" text-anchor="middle">14</text>
<line x1="67.5" y1="563.60" x2="74.5" y2="563.60" stroke="#000" stroke-width="1.0"/>
<line x1="340.0" y1="563.60" x2="347.0" y2="563.60" stroke="#000" stroke-width="1.0"/>
<text x="58.5" y="568.50" class="t" text-anchor="end">0.030</text>
<line x1="71.0" y1="556.02" x2="74.5" y2="556.02" stroke="#000" stroke-width="0.85"/>
<line x1="340.0" y1="556.02" x2="343.5" y2="556.02" stroke="#000" stroke-width="0.85"/>
<line x1="71.0" y1="548.43" x2="74.5" y2="548.43" stroke="#000" stroke-width="0.85"/>
<line x1="340.0" y1="548.43" x2="343.5" y2="548.43" stroke="#000" stroke-width="0.85"/>
<line x1="71.0" y1="540.85" x2="74.5" y2="540.85" stroke="#000" stroke-width="0.85"/>
<line x1="340.0" y1="540.85" x2="343.5" y2="540.85" stroke="#000" stroke-width="0.85"/>
<line x1="71.0" y1="533.27" x2="74.5" y2="533.27" stroke="#000" stroke-width="0.85"/>
<line x1="340.0" y1="533.27" x2="343.5" y2="533.27" stroke="#000" stroke-width="0.85"/>
<line x1="67.5" y1="525.69" x2="74.5" y2="525.69" stroke="#000" stroke-width="1.0"/>
<line x1="340.0" y1="525.69" x2="347.0" y2="525.69" stroke="#000" stroke-width="1.0"/>
<text x="58.5" y="530.59" class="t" text-anchor="end">0.040</text>
<line x1="71.0" y1="518.10" x2="74.5" y2="518.10" stroke="#000" stroke-width="0.85"/>
<line x1="340.0" y1="518.10" x2="343.5" y2="518.10" stroke="#000" stroke-width="0.85"/>
<line x1="71.0" y1="510.52" x2="74.5" y2="510.52" stroke="#000" stroke-width="0.85"/>
<line x1="340.0" y1="510.52" x2="343.5" y2="510.52" stroke="#000" stroke-width="0.85"/>
<line x1="71.0" y1="502.94" x2="74.5" y2="502.94" stroke="#000" stroke-width="0.85"/>
<line x1="340.0" y1="502.94" x2="343.5" y2="502.94" stroke="#000" stroke-width="0.85"/>
<line x1="71.0" y1="495.35" x2="74.5" y2="495.35" stroke="#000" stroke-width="0.85"/>
<line x1="340.0" y1="495.35" x2="343.5" y2="495.35" stroke="#000" stroke-width="0.85"/>
<line x1="67.5" y1="487.77" x2="74.5" y2="487.77" stroke="#000" stroke-width="1.0"/>
<line x1="340.0" y1="487.77" x2="347.0" y2="487.77" stroke="#000" stroke-width="1.0"/>
<text x="58.5" y="492.67" class="t" text-anchor="end">0.050</text>
<line x1="71.0" y1="480.19" x2="74.5" y2="480.19" stroke="#000" stroke-width="0.85"/>
<line x1="340.0" y1="480.19" x2="343.5" y2="480.19" stroke="#000" stroke-width="0.85"/>
<line x1="71.0" y1="472.61" x2="74.5" y2="472.61" stroke="#000" stroke-width="0.85"/>
<line x1="340.0" y1="472.61" x2="343.5" y2="472.61" stroke="#000" stroke-width="0.85"/>
<line x1="71.0" y1="465.02" x2="74.5" y2="465.02" stroke="#000" stroke-width="0.85"/>
<line x1="340.0" y1="465.02" x2="343.5" y2="465.02" stroke="#000" stroke-width="0.85"/>
<line x1="71.0" y1="457.44" x2="74.5" y2="457.44" stroke="#000" stroke-width="0.85"/>
<line x1="340.0" y1="457.44" x2="343.5" y2="457.44" stroke="#000" stroke-width="0.85"/>
<line x1="67.5" y1="449.86" x2="74.5" y2="449.86" stroke="#000" stroke-width="1.0"/>
<line x1="340.0" y1="449.86" x2="347.0" y2="449.86" stroke="#000" stroke-width="1.0"/>
<text x="58.5" y="454.76" class="t" text-anchor="end">0.060</text>
<line x1="71.0" y1="442.27" x2="74.5" y2="442.27" stroke="#000" stroke-width="0.85"/>
<line x1="340.0" y1="442.27" x2="343.5" y2="442.27" stroke="#000" stroke-width="0.85"/>
<line x1="71.0" y1="434.69" x2="74.5" y2="434.69" stroke="#000" stroke-width="0.85"/>
<line x1="340.0" y1="434.69" x2="343.5" y2="434.69" stroke="#000" stroke-width="0.85"/>
<line x1="71.0" y1="427.11" x2="74.5" y2="427.11" stroke="#000" stroke-width="0.85"/>
<line x1="340.0" y1="427.11" x2="343.5" y2="427.11" stroke="#000" stroke-width="0.85"/>
<text x="207.25" y="423.20" class="t" text-anchor="middle">Fractional Area Burned</text>
<rect x="74.5" y="430.9" width="265.5" height="132.7" fill="none" stroke="#000" stroke-width="1.1"/>
<line x1="424.50" y1="423.9" x2="424.50" y2="430.9" stroke="#000" stroke-width="1.1"/>
<line x1="424.50" y1="563.5999999999999" x2="424.50" y2="570.5999999999999" stroke="#000" stroke-width="1.1"/>
<text x="424.50" y="589.20" class="t" text-anchor="middle">0</text>
<line x1="462.43" y1="423.9" x2="462.43" y2="430.9" stroke="#000" stroke-width="1.1"/>
<line x1="462.43" y1="563.5999999999999" x2="462.43" y2="570.5999999999999" stroke="#000" stroke-width="1.1"/>
<text x="462.43" y="589.20" class="t" text-anchor="middle">2</text>
<line x1="500.36" y1="423.9" x2="500.36" y2="430.9" stroke="#000" stroke-width="1.1"/>
<line x1="500.36" y1="563.5999999999999" x2="500.36" y2="570.5999999999999" stroke="#000" stroke-width="1.1"/>
<text x="500.36" y="589.20" class="t" text-anchor="middle">4</text>
<line x1="538.29" y1="423.9" x2="538.29" y2="430.9" stroke="#000" stroke-width="1.1"/>
<line x1="538.29" y1="563.5999999999999" x2="538.29" y2="570.5999999999999" stroke="#000" stroke-width="1.1"/>
<text x="538.29" y="589.20" class="t" text-anchor="middle">6</text>
<line x1="576.21" y1="423.9" x2="576.21" y2="430.9" stroke="#000" stroke-width="1.1"/>
<line x1="576.21" y1="563.5999999999999" x2="576.21" y2="570.5999999999999" stroke="#000" stroke-width="1.1"/>
<text x="576.21" y="589.20" class="t" text-anchor="middle">8</text>
<line x1="614.14" y1="423.9" x2="614.14" y2="430.9" stroke="#000" stroke-width="1.1"/>
<line x1="614.14" y1="563.5999999999999" x2="614.14" y2="570.5999999999999" stroke="#000" stroke-width="1.1"/>
<text x="614.14" y="589.20" class="t" text-anchor="middle">10</text>
<line x1="652.07" y1="423.9" x2="652.07" y2="430.9" stroke="#000" stroke-width="1.1"/>
<line x1="652.07" y1="563.5999999999999" x2="652.07" y2="570.5999999999999" stroke="#000" stroke-width="1.1"/>
<text x="652.07" y="589.20" class="t" text-anchor="middle">12</text>
<line x1="690.00" y1="423.9" x2="690.00" y2="430.9" stroke="#000" stroke-width="1.1"/>
<line x1="690.00" y1="563.5999999999999" x2="690.00" y2="570.5999999999999" stroke="#000" stroke-width="1.1"/>
<text x="690.00" y="589.20" class="t" text-anchor="middle">14</text>
<line x1="417.5" y1="563.60" x2="424.5" y2="563.60" stroke="#000" stroke-width="1.0"/>
<line x1="690.0" y1="563.60" x2="697.0" y2="563.60" stroke="#000" stroke-width="1.0"/>
<text x="408.5" y="568.50" class="t" text-anchor="end">0.0e-6</text>
<line x1="421.0" y1="554.12" x2="424.5" y2="554.12" stroke="#000" stroke-width="0.85"/>
<line x1="690.0" y1="554.12" x2="693.5" y2="554.12" stroke="#000" stroke-width="0.85"/>
<line x1="421.0" y1="544.64" x2="424.5" y2="544.64" stroke="#000" stroke-width="0.85"/>
<line x1="690.0" y1="544.64" x2="693.5" y2="544.64" stroke="#000" stroke-width="0.85"/>
<line x1="421.0" y1="535.16" x2="424.5" y2="535.16" stroke="#000" stroke-width="0.85"/>
<line x1="690.0" y1="535.16" x2="693.5" y2="535.16" stroke="#000" stroke-width="0.85"/>
<line x1="417.5" y1="525.69" x2="424.5" y2="525.69" stroke="#000" stroke-width="1.0"/>
<line x1="690.0" y1="525.69" x2="697.0" y2="525.69" stroke="#000" stroke-width="1.0"/>
<text x="408.5" y="530.59" class="t" text-anchor="end">2.0e-6</text>
<line x1="421.0" y1="516.21" x2="424.5" y2="516.21" stroke="#000" stroke-width="0.85"/>
<line x1="690.0" y1="516.21" x2="693.5" y2="516.21" stroke="#000" stroke-width="0.85"/>
<line x1="421.0" y1="506.73" x2="424.5" y2="506.73" stroke="#000" stroke-width="0.85"/>
<line x1="690.0" y1="506.73" x2="693.5" y2="506.73" stroke="#000" stroke-width="0.85"/>
<line x1="421.0" y1="497.25" x2="424.5" y2="497.25" stroke="#000" stroke-width="0.85"/>
<line x1="690.0" y1="497.25" x2="693.5" y2="497.25" stroke="#000" stroke-width="0.85"/>
<line x1="417.5" y1="487.77" x2="424.5" y2="487.77" stroke="#000" stroke-width="1.0"/>
<line x1="690.0" y1="487.77" x2="697.0" y2="487.77" stroke="#000" stroke-width="1.0"/>
<text x="408.5" y="492.67" class="t" text-anchor="end">4.0e-6</text>
<line x1="421.0" y1="478.29" x2="424.5" y2="478.29" stroke="#000" stroke-width="0.85"/>
<line x1="690.0" y1="478.29" x2="693.5" y2="478.29" stroke="#000" stroke-width="0.85"/>
<line x1="421.0" y1="468.81" x2="424.5" y2="468.81" stroke="#000" stroke-width="0.85"/>
<line x1="690.0" y1="468.81" x2="693.5" y2="468.81" stroke="#000" stroke-width="0.85"/>
<line x1="421.0" y1="459.34" x2="424.5" y2="459.34" stroke="#000" stroke-width="0.85"/>
<line x1="690.0" y1="459.34" x2="693.5" y2="459.34" stroke="#000" stroke-width="0.85"/>
<line x1="417.5" y1="449.86" x2="424.5" y2="449.86" stroke="#000" stroke-width="1.0"/>
<line x1="690.0" y1="449.86" x2="697.0" y2="449.86" stroke="#000" stroke-width="1.0"/>
<text x="408.5" y="454.76" class="t" text-anchor="end">6.0e-6</text>
<line x1="421.0" y1="440.38" x2="424.5" y2="440.38" stroke="#000" stroke-width="0.85"/>
<line x1="690.0" y1="440.38" x2="693.5" y2="440.38" stroke="#000" stroke-width="0.85"/>
<line x1="421.0" y1="430.90" x2="424.5" y2="430.90" stroke="#000" stroke-width="0.85"/>
<line x1="690.0" y1="430.90" x2="693.5" y2="430.90" stroke="#000" stroke-width="0.85"/>
<text x="557.25" y="423.20" class="t" text-anchor="middle">Fractional Area Burned - Crop</text>
<rect x="424.5" y="430.9" width="265.5" height="132.7" fill="none" stroke="#000" stroke-width="1.1"/>
<text x="350" y="38.8" class="tt" text-anchor="middle">Australia (30-20S,110-145E)</text>
<line x1="160.7" y1="649.6" x2="275" y2="649.6" stroke="#00f" stroke-width="1" stroke-opacity="0.62" stroke-dasharray="10.7 10.1"/>
<line x1="160.7" y1="680.4" x2="275" y2="680.4" stroke="#f00" stroke-width="1" stroke-opacity="0.55"/>
<text x="283.5" y="651.9" class="tl">Myccost_I2000Clm50BgcCrop_control (yrs 1-14)</text>
<text x="283.5" y="683.1" class="tl">Myccost_I2000Clm50BgcCrop_kparams (yrs 1-14)</text>
<text x="0" y="0" class="t" text-anchor="middle" transform="translate(14.7,138.75) rotate(-90)">gC/m^2/d</text>
<text x="0" y="0" class="t" text-anchor="middle" transform="translate(348.1,138.75) rotate(-90)">gN/m^2/d</text>
<text x="0" y="0" class="t" text-anchor="middle" transform="translate(5.6,318.0) rotate(-90)">gC/m^2/d</text>
<text x="0" y="0" class="t" text-anchor="middle" transform="translate(340.7,318.0) rotate(-90)">gN/m^2/d</text>
<text x="0" y="0" class="t" text-anchor="middle" transform="translate(13.6,497.25) rotate(-90)">proportion/y</text>
<text x="0" y="0" class="t" text-anchor="middle" transform="translate(360.4,497.25) rotate(-90)">proportion/y</text>
</svg></body></html>
